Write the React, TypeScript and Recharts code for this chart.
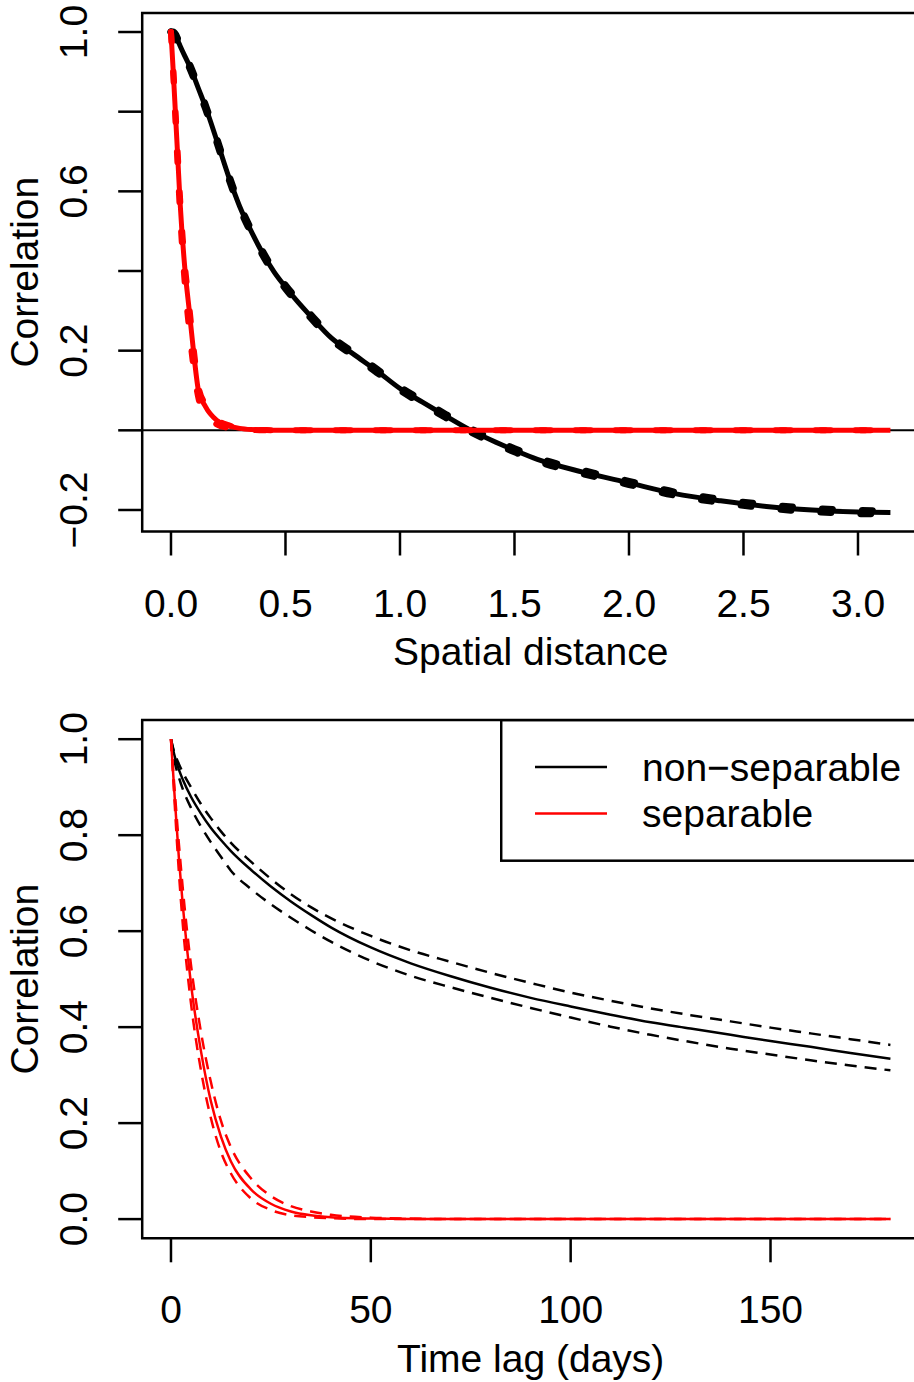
import { LineChart, Line, XAxis, YAxis, ReferenceLine, ReferenceArea, Legend, Label } from 'recharts'

// spatial panel (distance in domain units)
const distance = [0, 0.01, 0.02, 0.03, 0.04, 0.06, 0.08, 0.1, 0.12, 0.15, 0.2, 0.25, 0.3, 0.35, 0.4, 0.45, 0.5, 0.55, 0.6, 0.7, 0.8, 0.9, 1.0, 1.1, 1.2, 1.3, 1.4, 1.5, 1.6, 1.8, 2.0, 2.2, 2.4, 2.6, 2.8, 3.0, 3.1416]
const spatialNonSep = [1.0, 0.997, 0.99, 0.978, 0.965, 0.94, 0.916, 0.888, 0.858, 0.813, 0.728, 0.64, 0.562, 0.5, 0.445, 0.398, 0.36, 0.325, 0.293, 0.232, 0.19, 0.149, 0.105, 0.07, 0.036, 0.003, -0.025, -0.05, -0.073, -0.105, -0.132, -0.159, -0.177, -0.191, -0.2, -0.205, -0.206]
const spatialNonSepHi = [1.0, 1.0, 0.994, 0.982, 0.969, 0.944, 0.92, 0.892, 0.862, 0.817, 0.732, 0.644, 0.566, 0.504, 0.449, 0.402, 0.364, 0.329, 0.297, 0.236, 0.194, 0.153, 0.109, 0.074, 0.04, 0.007, -0.021, -0.046, -0.069, -0.101, -0.128, -0.155, -0.173, -0.187, -0.196, -0.201, -0.202]
const spatialNonSepLo = [1.0, 0.994, 0.986, 0.974, 0.961, 0.936, 0.912, 0.884, 0.854, 0.809, 0.724, 0.636, 0.558, 0.496, 0.441, 0.394, 0.356, 0.321, 0.289, 0.228, 0.186, 0.145, 0.101, 0.066, 0.032, -0.001, -0.029, -0.054, -0.077, -0.109, -0.136, -0.163, -0.181, -0.195, -0.204, -0.209, -0.21]
const spatialSep = [1.0, 0.9, 0.79, 0.68, 0.57, 0.41, 0.3, 0.19, 0.1, 0.06, 0.025, 0.012, 0.005, 0.002, 0.001, 0, 0, 0, 0, 0, 0, 0, 0, 0, 0, 0, 0, 0, 0, 0, 0, 0, 0, 0, 0, 0, 0]
const spatialSepHi = [1.0, 0.91, 0.8, 0.69, 0.58, 0.42, 0.31, 0.2, 0.11, 0.065, 0.027, 0.013, 0.006, 0.002, 0.001, 0, 0, 0, 0, 0, 0, 0, 0, 0, 0, 0, 0, 0, 0, 0, 0, 0, 0, 0, 0, 0, 0]
const spatialSepLo = [1.0, 0.89, 0.77, 0.65, 0.54, 0.37, 0.25, 0.15, 0.08, 0.04, 0.015, 0.006, 0.002, 0.001, 0, 0, 0, 0, 0, 0, 0, 0, 0, 0, 0, 0, 0, 0, 0, 0, 0, 0, 0, 0, 0, 0, 0]

// temporal panel (lag in days)
const lagDays = [0, 1, 2, 3, 5, 7.5, 10, 12.5, 15, 20, 25, 30, 35, 40, 50, 60, 70, 80, 90, 100, 110, 120, 130, 140, 150, 160, 170, 180]
const temporalNonSep = [1.0, 0.962, 0.936, 0.915, 0.88, 0.845, 0.815, 0.79, 0.767, 0.728, 0.693, 0.662, 0.634, 0.608, 0.566, 0.533, 0.506, 0.482, 0.461, 0.443, 0.426, 0.41, 0.397, 0.384, 0.371, 0.359, 0.346, 0.334]
const temporalNonSepHi = [1.0, 0.968, 0.948, 0.93, 0.9, 0.865, 0.835, 0.808, 0.784, 0.745, 0.709, 0.677, 0.65, 0.627, 0.59, 0.56, 0.536, 0.513, 0.492, 0.472, 0.455, 0.439, 0.425, 0.412, 0.399, 0.387, 0.375, 0.363]
const temporalNonSepLo = [1.0, 0.95, 0.92, 0.895, 0.857, 0.818, 0.785, 0.755, 0.726, 0.688, 0.656, 0.628, 0.602, 0.578, 0.538, 0.507, 0.483, 0.461, 0.44, 0.42, 0.401, 0.384, 0.369, 0.355, 0.343, 0.331, 0.32, 0.31]
const temporalSep = [1.0, 0.87, 0.75, 0.65, 0.49, 0.35, 0.245, 0.172, 0.12, 0.062, 0.032, 0.016, 0.008, 0.004, 0.001, 0, 0, 0, 0, 0, 0, 0, 0, 0, 0, 0, 0, 0]
const temporalSepHi = [1.0, 0.885, 0.78, 0.685, 0.53, 0.39, 0.285, 0.205, 0.15, 0.085, 0.048, 0.027, 0.016, 0.009, 0.003, 0.001, 0, 0, 0, 0, 0, 0, 0, 0, 0, 0, 0, 0]
const temporalSepLo = [1.0, 0.855, 0.72, 0.61, 0.45, 0.31, 0.21, 0.14, 0.095, 0.043, 0.019, 0.008, 0.004, 0.002, 0, 0, 0, 0, 0, 0, 0, 0, 0, 0, 0, 0, 0, 0]

const distanceTicks = [0, 0.5, 1, 1.5, 2, 2.5, 3]
const distanceLabels = ['0.0', '0.5', '1.0', '1.5', '2.0', '2.5', '3.0']
const spatialCorrTicks = [-0.2, 0, 0.2, 0.4, 0.6, 0.8, 1]
const spatialCorrLabels = ['\u22120.2', '', '0.2', '', '0.6', '', '1.0']
const lagTicks = [0, 50, 100, 150]
const lagLabels = ['0', '50', '100', '150']
const temporalCorrTicks = [0, 0.2, 0.4, 0.6, 0.8, 1]
const temporalCorrLabels = ['0.0', '0.2', '0.4', '0.6', '0.8', '1.0']

const seriesNames = ['non\u2212separable', 'separable']

const FONT = '"Liberation Sans", Arial, Helvetica, sans-serif'
const FS = 39
const W = 920

const spatialData = distance.map((d, i) => ({
  x: d,
  ns: spatialNonSep[i], nsHi: spatialNonSepHi[i], nsLo: spatialNonSepLo[i],
  s: spatialSep[i], sHi: spatialSepHi[i], sLo: spatialSepLo[i],
}))

const temporalData = lagDays.map((t, i) => ({
  x: t,
  ns: temporalNonSep[i], nsHi: temporalNonSepHi[i], nsLo: temporalNonSepLo[i],
  s: temporalSep[i], sHi: temporalSepHi[i], sLo: temporalSepLo[i],
}))

const makeXTick = (ticks: number[], labels: string[]) => (props: any) => {
  const i = ticks.findIndex((t) => Math.abs(t - props.payload.value) < 1e-9)
  return (
    <text x={props.x} y={props.y + 61} textAnchor="middle" fontSize={FS} fontFamily={FONT} fill="#000">
      {labels[i]}
    </text>
  )
}

const makeYTick = (ticks: number[], labels: string[]) => (props: any) => {
  const i = ticks.findIndex((t) => Math.abs(t - props.payload.value) < 1e-9)
  const x = props.x - 31
  return (
    <text x={x} y={props.y} transform={`rotate(-90 ${x} ${props.y})`} textAnchor="middle" fontSize={FS} fontFamily={FONT} fill="#000">
      {labels[i]}
    </text>
  )
}

const xTitle = (text: string) => (props: any) => {
  const vb = props.viewBox || {}
  return (
    <text x={vb.x + vb.width / 2} y={vb.y + 133.5} textAnchor="middle" fontSize={FS} fontFamily={FONT} fill="#000">
      {text}
    </text>
  )
}

const yTitle = (text: string) => (props: any) => {
  const vb = props.viewBox || {}
  const cy = vb.y + vb.height / 2
  return (
    <text x={38.5} y={cy} transform={`rotate(-90 38.5 ${cy})`} textAnchor="middle" fontSize={FS} fontFamily={FONT} fill="#000">
      {text}
    </text>
  )
}

const renderLegend = (props: any) => {
  const items = (props.payload || []).filter((p: any) => p.type !== 'none')
  return (
    <svg width={420} height={143} style={{ display: 'block' }}>
      <rect x={1.2} y={1.2} width={430} height={140.5} fill="#fff" stroke="#000" strokeWidth={2.5} />
      {items.map((p: any, i: number) => (
        <g key={p.value}>
          <line x1={35} x2={107} y1={48 + i * 46.6} y2={48 + i * 46.6} stroke={p.color} strokeWidth={2.5} />
          <text x={142} y={61.5 + i * 46.6} fontSize={FS} fontFamily={FONT} fill="#000">{p.value}</text>
        </g>
      ))}
    </svg>
  )
}

const tickLine = { stroke: '#000', strokeWidth: 2.5 }

function SpatialPanel() {
  return (
    <LineChart width={W} height={690} data={spatialData} margin={{ top: 12.9, right: 0.8, bottom: 98.5, left: 0 }}>
      <ReferenceArea x1={-0.1257} x2={3.2673} y1={-0.254} y2={1.048} fill="none" stroke="#000" strokeWidth={2.5} ifOverflow="visible" />
      <XAxis dataKey="x" type="number" domain={[-0.1257, 3.2673]} allowDataOverflow ticks={distanceTicks} interval={0}
        height={60} tickSize={24} tickMargin={0} axisLine={false} tickLine={tickLine} tick={makeXTick(distanceTicks, distanceLabels)}>
        <Label content={xTitle('Spatial distance')} />
      </XAxis>
      <YAxis type="number" domain={[-0.254, 1.048]} allowDataOverflow ticks={spatialCorrTicks} interval={0}
        width={142.2} tickSize={24} tickMargin={0} axisLine={false} tickLine={tickLine} tick={makeYTick(spatialCorrTicks, spatialCorrLabels)}>
        <Label content={yTitle('Correlation')} />
      </YAxis>
      <ReferenceLine y={0} stroke="#000" strokeWidth={2} />
      <Line dataKey="nsHi" type="monotone" stroke="#000" strokeWidth={7} strokeDasharray="10 30" strokeLinecap="round" dot={false} activeDot={false} isAnimationActive={false} legendType="none" />
      <Line dataKey="nsLo" type="monotone" stroke="#000" strokeWidth={7} strokeDasharray="10 30" strokeLinecap="round" dot={false} activeDot={false} isAnimationActive={false} legendType="none" />
      <Line dataKey="ns" name={seriesNames[0]} type="monotone" stroke="#000" strokeWidth={5} dot={false} activeDot={false} isAnimationActive={false} />
      <Line dataKey="sHi" type="monotone" stroke="#ff0000" strokeWidth={6} strokeDasharray="10 30" strokeLinecap="round" dot={false} activeDot={false} isAnimationActive={false} legendType="none" />
      <Line dataKey="sLo" type="monotone" stroke="#ff0000" strokeWidth={6} strokeDasharray="10 30" strokeLinecap="round" dot={false} activeDot={false} isAnimationActive={false} legendType="none" />
      <Line dataKey="s" name={seriesNames[1]} type="monotone" stroke="#ff0000" strokeWidth={5} dot={false} activeDot={false} isAnimationActive={false} />
    </LineChart>
  )
}

function TemporalPanel() {
  return (
    <LineChart width={W} height={692} data={temporalData} margin={{ top: 30, right: 0.8, bottom: 83.7, left: 0 }}>
      <ReferenceArea x1={-7.2} x2={187.2} y1={-0.04} y2={1.04} fill="none" stroke="#000" strokeWidth={2.5} ifOverflow="visible" />
      <XAxis dataKey="x" type="number" domain={[-7.2, 187.2]} allowDataOverflow ticks={lagTicks} interval={0}
        height={60} tickSize={24} tickMargin={0} axisLine={false} tickLine={tickLine} tick={makeXTick(lagTicks, lagLabels)}>
        <Label content={xTitle('Time lag (days)')} />
      </XAxis>
      <YAxis type="number" domain={[-0.04, 1.04]} allowDataOverflow ticks={temporalCorrTicks} interval={0}
        width={142.2} tickSize={24} tickMargin={0} axisLine={false} tickLine={tickLine} tick={makeYTick(temporalCorrTicks, temporalCorrLabels)}>
        <Label content={yTitle('Correlation')} />
      </YAxis>
      <Line dataKey="nsHi" type="monotone" stroke="#000" strokeWidth={2.5} strokeDasharray="12 8" dot={false} activeDot={false} isAnimationActive={false} legendType="none" />
      <Line dataKey="nsLo" type="monotone" stroke="#000" strokeWidth={2.5} strokeDasharray="12 8" dot={false} activeDot={false} isAnimationActive={false} legendType="none" />
      <Line dataKey="ns" name={seriesNames[0]} type="monotone" stroke="#000" strokeWidth={2.5} dot={false} activeDot={false} isAnimationActive={false} />
      <Line dataKey="sHi" type="monotone" stroke="#ff0000" strokeWidth={2.5} strokeDasharray="12 8" dot={false} activeDot={false} isAnimationActive={false} legendType="none" />
      <Line dataKey="sLo" type="monotone" stroke="#ff0000" strokeWidth={2.5} strokeDasharray="12 8" dot={false} activeDot={false} isAnimationActive={false} legendType="none" />
      <Line dataKey="s" name={seriesNames[1]} type="monotone" stroke="#ff0000" strokeWidth={2.5} dot={false} activeDot={false} isAnimationActive={false} />
      <Legend layout="vertical" align="center" verticalAlign="middle" content={renderLegend}
        wrapperStyle={{ left: 500, top: 29, width: 420, height: 143, right: 'auto', bottom: 'auto' }} />
    </LineChart>
  )
}

export default function App() {
  return (
    <div style={{ position: 'absolute', left: 0, top: 0, width: 914, height: 1382, overflow: 'hidden', background: '#fff' }}>
      <div style={{ position: 'absolute', left: 0, top: 0 }}>
        <SpatialPanel />
      </div>
      <div style={{ position: 'absolute', left: 0, top: 690 }}>
        <TemporalPanel />
      </div>
    </div>
  )
}
